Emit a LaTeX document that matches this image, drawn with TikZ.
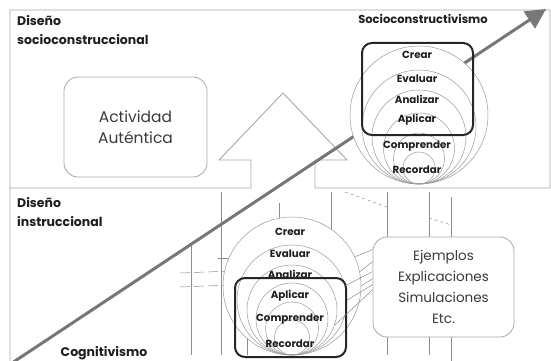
\documentclass[tikz,border=0pt]{standalone}
\usepackage{fontspec}
\setmainfont{Poppins}
\usetikzlibrary{arrows.meta}
\definecolor{linegray}{HTML}{A8A8A8}
\definecolor{arrowgray}{HTML}{777777}
\definecolor{darktxt}{HTML}{1E1E1E}
\definecolor{softtxt}{HTML}{3A3A3A}
\definecolor{ringgray}{HTML}{9A9A9A}
\definecolor{bggray}{HTML}{8C8C8C}
\begin{document}
\begin{tikzpicture}[x=1pt,y=-1pt,
  frame/.style={draw=linegray, line width=0.9pt},
  softbox/.style={draw=linegray, line width=0.8pt, rounded corners=14pt, fill=white},
  bigtxt/.style={font=\fontsize{14}{21}\selectfont, text=softtxt, align=center},
  heading/.style={font=\bfseries\fontsize{12.5}{19}\selectfont, text=darktxt, align=left, inner sep=0pt},
  level/.style={font=\bfseries\fontsize{10.3}{10}\selectfont, text=darktxt, inner sep=0pt},
  ring/.style={draw=ringgray, line width=0.5pt, circle, inner sep=0pt},
  focus/.style={draw=black!85, line width=2pt, rounded corners=10pt},
  bgline/.style={draw=bggray, line width=0.5pt},
  bigarrow/.style={draw=arrowgray, line width=3pt, -{Triangle[length=20pt,width=20pt]}}
]
\useasboundingbox (0,0) rectangle (551,361);

% ---------- background sketch lines (lower part)
\draw[bgline] (191,243) -- (191,355);
\draw[bgline] (221,192) -- (221,355);
\draw[bgline] (279,203) -- (279,225);
\draw[bgline] (331,192) -- (331,240);
\draw[bgline] (387,192) -- (387,243);
\draw[bgline] (387,337) -- (387,355);
\draw[bgline] (429,192) -- (429,240);
\draw[bgline] (429,337) -- (429,355);
\draw[bgline] (451,197) -- (451,240);
\draw[bgline] (451,337) -- (451,361);
\draw[bgline] (247,330) -- (247,355);
\draw[bgline, dashed] (345,192) -- (387,207);
\draw[bgline, dashed] (429,218) -- (451,225);
\draw[bgline, dash pattern=on 10pt off 4pt] (180,273) -- (232,271);
\draw[bgline, dash pattern=on 10pt off 4pt] (180,287) -- (232,285);
\draw[bgline] (218,258) -- (230,258);

% ---------- frame
\draw[frame] (10,361) -- (10,10) -- (550,10) -- (550,188) -- (315,188)
  -- (315,160) -- (347,160) -- (283,93) -- (219,160) -- (251,160) -- (251,188) -- (10,188);

% ---------- headings
\node[heading, anchor=north west] (dsc) at (17,15) {Diseño\\socioconstruccional};
\node[heading, anchor=north west] (din) at (17,197) {Diseño\\instruccional};

% ---------- Actividad autentica
\node[softbox, minimum width=143pt, minimum height=100pt] (act) at (135.5,127) {};
\node[bigtxt, font=\fontsize{15.5}{21}\selectfont] (acttxt) at (act.center) {Actividad\\Auténtica};

% ---------- main arrow
\coordinate (arrS) at (12,363);
\coordinate (arrE) at (546,9);
\draw[bigarrow] (arrS) -- (arrE);

% ---------- upper circles (socioconstructivismo)
\node[heading, font=\bfseries\fontsize{11.5}{19}\selectfont, anchor=base] (socio) at (423,24) {Socioconstructivismo};
\node[ring, fill=white, minimum size=138pt] (up1) at (419,115) {};
\node[ring, minimum size=114pt] (up2) at (419,127) {};
\node[ring, minimum size=94pt] (up3) at (419,137) {};
\node[ring, minimum size=71pt] (up4) at (419,148.5) {};
\node[ring, minimum size=51pt] (up5) at (419,158.5) {};
\node[ring, minimum size=32pt] (up6) at (419,168) {};
\node[level] (uc1) at (417,55) {Crear};
\node[level] (uc2) at (417,79) {Evaluar};
\node[level] (uc3) at (417,99) {Analizar};
\node[level] (uc4) at (417,120) {Aplicar};
\node[level] (uc5) at (417,146) {Comprender};
\node[level] (uc6) at (417,170) {Recordar};
\node[focus, minimum width=111pt, minimum height=92pt] (upbox) at (417.5,89) {};

% ---------- Ejemplos box
\node[softbox, minimum width=141pt, minimum height=100pt] (ej) at (443.5,287) {};
\node[bigtxt, font=\fontsize{13.5}{21}\selectfont] (ejtxt) at (ej.center) {Ejemplos\\Explicaciones\\Simulaciones\\Etc.};

% ---------- lower circles (cognitivismo)
\node[ring, fill=white, minimum size=138pt] (lo1) at (292,286) {};
\node[ring, minimum size=110pt] (lo2) at (292,300) {};
\node[ring, minimum size=90pt] (lo3) at (292,310) {};
\node[ring, minimum size=72pt] (lo4) at (292,319) {};
\node[ring, minimum size=53pt] (lo5) at (292,328.5) {};
\node[ring, minimum size=35pt] (lo6) at (292,337.5) {};
\node[level] (lc1) at (290,232) {Crear};
\node[level] (lc2) at (290,254) {Evaluar};
\node[level] (lc3) at (290,274) {Analizar};
\node[level] (lc4) at (290,296) {Aplicar};
\node[level] (lc5) at (290,319) {Comprender};
\node[level] (lc6) at (290,344) {Recordar};
\node[focus, minimum width=111pt, minimum height=79pt] (lobox) at (290.5,317.5) {};

% ---------- fan of links from circles to the examples box
\draw[bgline] (lo1.25) -- ([yshift=-13pt]ej.north west);
\draw[bgline] (lo1.12) -- ([yshift=-25pt]ej.north west);
\draw[bgline] (lo2.15) -- ([yshift=-35pt]ej.north west);
\draw[bgline] (lo1.0) -- ([yshift=-42pt]ej.north west);
\draw[bgline] (lo2.0) -- ([yshift=-48pt]ej.north west);
\draw[bgline] (lo3.-20) -- ([yshift=-53pt]ej.north west);

\node[heading, anchor=base] (cog) at (104,356) {Cognitivismo};
\end{tikzpicture}
\end{document}
